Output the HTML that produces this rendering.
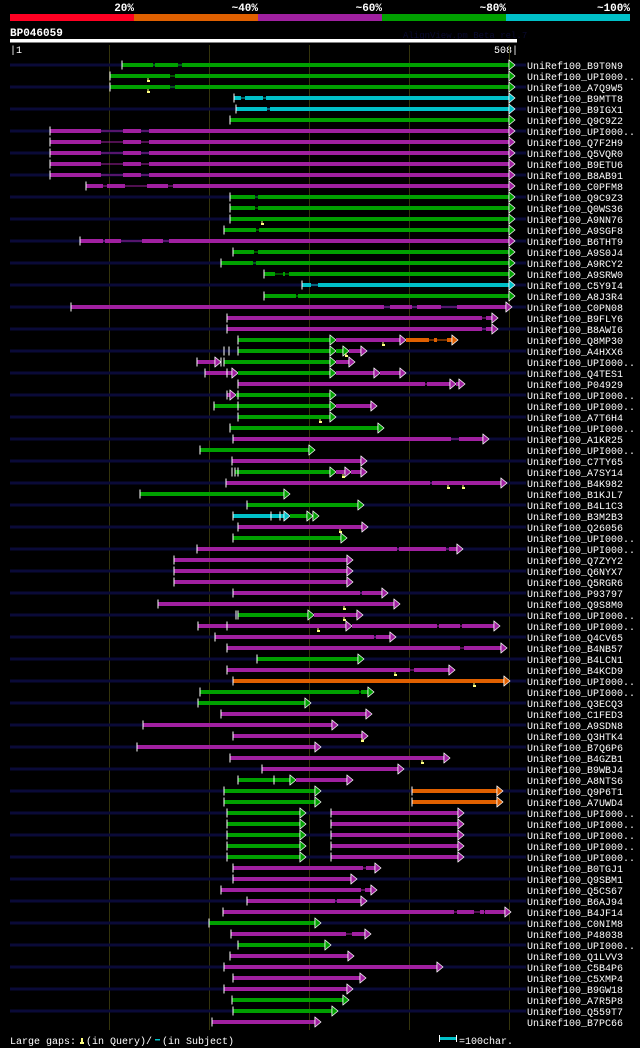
<!DOCTYPE html>
<html><head><meta charset="utf-8">
<style>
html,body{margin:0;padding:0;background:#000;}
svg{display:block;}
text{font-family:"Liberation Mono","DejaVu Sans Mono",monospace;}
</style></head>
<body>
<svg id="c" width="640" height="1048" viewBox="0 0 640 1048" xmlns="http://www.w3.org/2000/svg">
<rect width="640" height="1048" fill="#000"/>
<g>
<rect x="10" y="14" width="124" height="7" fill="#ff0022"/>
<rect x="134" y="14" width="124" height="7" fill="#e06000"/>
<rect x="258" y="14" width="124" height="7" fill="#a020a0"/>
<rect x="382" y="14" width="124" height="7" fill="#00a000"/>
<rect x="506" y="14" width="124" height="7" fill="#00c0c8"/>
<g font-size="11" font-weight="bold" fill="#fff" text-anchor="end">
<text x="134" y="11">20%</text><text x="258" y="11">~40%</text><text x="382" y="11">~60%</text><text x="506" y="11">~80%</text><text x="630" y="11">~100%</text>
</g></g>
<text x="10" y="36" font-size="11" font-weight="bold" fill="#fff">BP046059</text>
<text x="403" y="38" font-size="9" fill="#0a0a30">AlignView.pm Beta rel.7</text>
<rect x="10" y="39" width="507" height="3.5" fill="#fff"/>
<text x="10" y="53" font-size="10" fill="#fff">|1</text>
<text x="518" y="53" font-size="10" fill="#fff" text-anchor="end">508|</text>
<g id="grid"></g>
<g id="rows"></g>
<g font-size="10" fill="#fff">
<text x="10" y="1044">Large gaps:</text>
<rect x="81" y="1038" width="2" height="4" fill="#ffff80"/><rect x="80" y="1042" width="4" height="2" fill="#ffff80"/>
<text x="86" y="1044">(in Query)/</text>
<rect x="155" y="1039" width="5" height="1.5" fill="#00c0c8"/>
<text x="162" y="1044">(in Subject)</text>
<rect x="439" y="1035" width="1" height="7" fill="#fff"/>
<rect x="440" y="1037" width="16" height="3" fill="#00c0c8"/>
<rect x="456" y="1035" width="1" height="7" fill="#fff"/>
<text x="459" y="1044">=100char.</text>
</g>
</svg>
<script>
const names=["B9T0N9","UPI000..","A7Q9W5","B9MTT8","B9IGX1","Q9C9Z2","UPI000..","Q7F2H9","Q5VQR0","B9ETU6","B8AB91","C0PFM8","Q9C9Z3","Q0WS36","A9NN76","A9SGF8","B6THT9","A9S0J4","A9RCY2","A9SRW0","C5Y9I4","A8J3R4","C0PN08","B9FLY6","B8AWI6","Q8MP30","A4HXX6","UPI000..","Q4TES1","P04929","UPI000..","UPI000..","A7T6H4","UPI000..","A1KR25","UPI000..","C7TY65","A7SY14","B4K982","B1KJL7","B4L1C3","B3M2B3","Q26056","UPI000..","UPI000..","Q7ZYY2","Q6NYX7","Q5RGR6","P93797","Q9S8M0","UPI000..","UPI000..","Q4CV65","B4NB57","B4LCN1","B4KCD9","UPI000..","UPI000..","Q3ECQ3","C1FED3","A9SDN8","Q3HTK4","B7Q6P6","B4GZB1","B9WBJ4","A8NTS6","Q9P6T1","A7UWD4","UPI000..","UPI000..","UPI000..","UPI000..","UPI000..","B0TGJ1","Q9SBM1","Q5CS67","B6AJ94","B4JF14","C0NIM8","P48038","UPI000..","Q1LVV3","C5B4P6","C5XMP4","B9GW18","A7R5P8","Q559T7","B7PC66"];
const segs=[
[[113,506,"G"]],[[101,506,"G"]],[[101,506,"G"]],[[225,506,"C"]],[[227,506,"C"]],[[221,506,"G"]],
[[41,506,"P"]],[[41,506,"P"]],[[41,506,"P"]],[[41,506,"P"]],[[41,506,"P"]],[[77,506,"P"]],
[[221,506,"G"]],[[221,506,"G"]],[[221,506,"G"]],[[215,506,"G"]],[[71,506,"P"]],[[224,506,"G"]],
[[212,506,"G"]],[[255,506,"G"]],[[293,506,"C"]],[[255,506,"G"]],[[62,503,"P"]],[[218,489,"P"]],
[[218,489,"P"]],[[229,327,"G"],[327,397,"P"],[397,449,"O"]],[[229,327,"G"],[327,340,"G"],[340,358,"P"]],
[[188,212,"P"],[215,327,"G"],[327,346,"P"]],[[196,229,"P"],[229,327,"G"],[327,371,"P"],[371,397,"P"]],
[[229,447,"P"],[447,456,"P"]],[[218,227,"P"],[227,327,"G"]],[[205,327,"G"],[327,368,"P"]],
[[229,327,"G"]],[[221,375,"G"]],[[224,480,"P"]],[[191,306,"G"]],[[223,358,"P"]],
[[226,327,"G"],[327,342,"P"],[342,358,"P"]],[[217,498,"P"]],[[131,281,"G"]],[[238,355,"G"]],
[[224,281,"C"],[281,304,"G"],[304,310,"G"]],[[229,359,"P"]],[[224,338,"G"]],[[188,454,"P"]],
[[165,344,"P"]],[[165,344,"P"]],[[165,344,"P"]],[[224,379,"P"]],[[149,391,"P"]],
[[229,305,"G"],[305,354,"P"]],[[189,343,"P"],[343,491,"P"]],[[206,387,"P"]],[[218,498,"P"]],
[[248,355,"G"]],[[218,446,"P"]],[[224,501,"O"]],[[191,365,"G"]],[[189,302,"G"]],[[212,363,"P"]],
[[134,329,"P"]],[[224,359,"P"]],[[128,312,"P"]],[[221,441,"P"]],[[253,395,"P"]],
[[229,287,"G"],[287,344,"P"]],[[215,312,"G"],[403,494,"O"]],[[215,312,"G"],[403,494,"O"]],
[[218,297,"G"],[322,455,"P"]],[[218,297,"G"],[322,455,"P"]],[[218,297,"G"],[322,455,"P"]],[[218,297,"G"],[322,455,"P"]],[[218,297,"G"],[322,455,"P"]],
[[224,372,"P"]],[[224,348,"P"]],[[212,368,"P"]],[[238,358,"P"]],[[214,502,"P"]],[[200,312,"G"]],
[[222,362,"P"]],[[229,322,"G"]],[[221,345,"P"]],[[215,434,"P"]],[[224,357,"P"]],[[215,344,"P"]],
[[223,340,"G"]],[[224,329,"G"]],[[203,312,"P"]]];
const gaps={0:[[144,146],[169,173]],1:[[161,166]],2:[[161,166]],3:[[232,236],[254,257]],4:[[258,261]],
6:[[92,114],[132,140]],7:[[92,114],[132,140]],8:[[92,114],[132,140]],9:[[92,114],[132,140]],10:[[92,114],[132,140]],
11:[[94,98],[116,138],[159,164]],12:[[246,249]],13:[[246,249]],15:[[247,250]],16:[[94,96],[112,133],[154,160]],
17:[[245,249]],18:[[244,247]],19:[[266,274],[276,280]],20:[[302,309]],21:[[287,289]],22:[[375,381],[403,408],[432,448]],
23:[[473,477]],24:[[473,477]],25:[[420,425],[428,438]],29:[[416,418]],34:[[442,450]],38:[[421,423]],
44:[[388,390],[437,440]],48:[[351,353]],51:[[428,430],[451,453]],52:[[365,367]],53:[[451,455]],55:[[401,405]],
57:[[350,352]],73:[[354,357]],75:[[352,356]],76:[[326,328]],77:[[445,448],[465,471],[475,476]],79:[[337,343]]};
const ticks={26:[215,220],27:[212],28:[218],30:[229],31:[229],37:[223,229],41:[262,271],50:[227],51:[218],65:[265]};
const marks={1:[139],2:[139],14:[253],25:[374],26:[337],32:[311],37:[334],38:[439,454],42:[331],49:[335],50:[335],51:[309],55:[386],56:[465],61:[353],63:[413]};
const gridTicks=[100,200,300,400,500];
const colors={G:"#00a000",P:"#a020a0",C:"#00c0c8",O:"#e06000"};
const NS="http://www.w3.org/2000/svg";
function X(p){return 9+p;}
function Y(i){return 65+i*11;}
function mk(tag,attrs,parent){const e=document.createElementNS(NS,tag);for(const k in attrs)e.setAttribute(k,attrs[k]);parent.appendChild(e);return e;}
const grid=document.getElementById('grid');
gridTicks.forEach(t=>{const l=mk('rect',{x:X(t),y:45,width:1,height:985,fill:'#34340c'},grid);

});
const rows=document.getElementById('rows');
names.forEach((n,i)=>{
 const y=Y(i);
 const g=mk('g',{},rows);
 
 
 if(i%2===0){mk('rect',{x:10,y:y-1.5,width:516,height:3,fill:'#0a0a38'},g);}
 const rg=gaps[i]||[];
 segs[i].forEach((s,j)=>{
  const c=colors[s[2]];
  const a=s[0],b=s[1]-6;
  let cur=a;
  const gs=rg.filter(q=>q[0]>=a&&q[1]<=b).sort((p,q)=>p[0]-q[0]);
  gs.forEach(q=>{
   if(q[0]>cur)mk('rect',{x:X(cur),y:y-2,width:q[0]-cur,height:4,fill:c},g);
   mk('rect',{x:X(q[0]),y:y-0.5,width:q[1]-q[0],height:1,fill:c},g);
   cur=q[1];});
  if(b>cur)mk('rect',{x:X(cur),y:y-2,width:b-cur,height:4,fill:c},g);
  mk('rect',{x:X(b)-0.5,y:y-5,width:1,height:10,fill:'#fff'},g);
  mk('polygon',{points:`${X(b)},${y-5} ${X(s[1])},${y} ${X(b)},${y+5}`,fill:c,stroke:'#fff','stroke-width':0.7},g);
  if(j===0||segs[i][j-1][1]!==s[0]) mk('rect',{x:X(a)-0.5,y:y-4.5,width:1,height:9,fill:'#fff'},g);
 });
 (ticks[i]||[]).forEach(t=>mk('rect',{x:X(t)-0.5,y:y-4.5,width:1,height:9,fill:'#fff'},g));
 (marks[i]||[]).forEach(m=>{mk('rect',{x:X(m)-0.5,y:y+2,width:1,height:3,fill:'#ffff80'},g);mk('rect',{x:X(m)-1,y:y+4,width:3,height:2,fill:'#ffff80'},g);});
 const t=mk('text',{x:527,y:y+4,'font-size':10,fill:'#fff'},g);
 t.textContent='UniRef100_'+n;
});
</script>
</body></html>
